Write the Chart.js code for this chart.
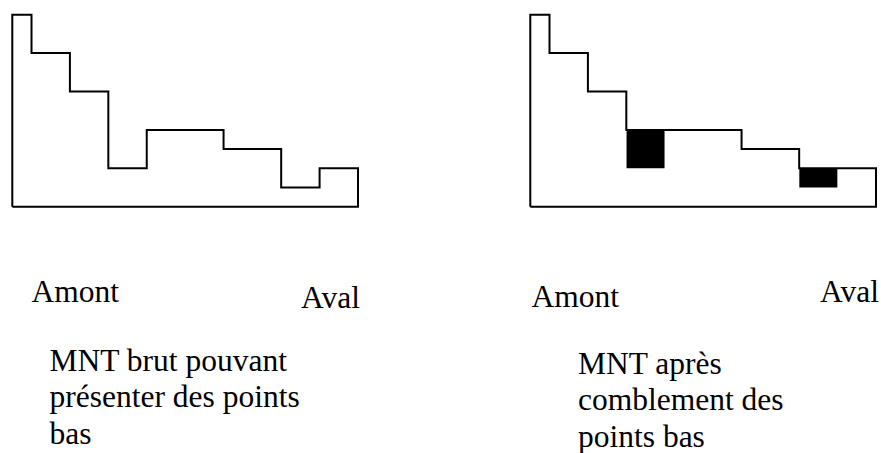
<!DOCTYPE html>
<html>
<head>
<meta charset="utf-8">
<script src="https://cdn.jsdelivr.net/npm/chart.js@4/dist/chart.umd.min.js"></script>
<style>
  html, body { margin: 0; padding: 0; background: #fff; }
  body { width: 881px; height: 453px; position: relative; overflow: hidden; }
  canvas { position: absolute; }
  .lbl { position: absolute; font-family: "Liberation Serif", "Times New Roman", "Liberation Sans", serif; font-size: 31.5px; line-height: 36.7px; color: #000; white-space: nowrap; }
</style>
</head>
<body>
<canvas id="raw" style="left:0;top:0;width:370px;height:220px" width="370" height="220"></canvas>
<canvas id="filled" style="left:515px;top:0;width:366px;height:220px" width="366" height="220"></canvas>

<div class="lbl" style="left:31.5px;top:274px">Amont</div>
<div class="lbl" style="left:301px;top:280px">Aval</div>
<div class="lbl" style="left:531.5px;top:279px">Amont</div>
<div class="lbl" style="left:820px;top:274px">Aval</div>
<div class="lbl" style="left:49.5px;top:342.5px">MNT brut pouvant<br>présenter des points<br>bas</div>
<div class="lbl" style="left:578px;top:345.5px">MNT après<br>comblement des<br>points bas</div>

<script>
// cell boundaries along the profile (upstream -> downstream)
const cellEdges = [0, 1, 3, 5, 7, 11, 14, 16, 18];
// elevation of each cell, raw DEM
const rawHeights = [10, 8, 6, 2, 4, 3, 1, 2];
// elevation of each cell after filling the sinks
const filledHeights = [10, 8, 6, 4, 4, 3, 2, 2];

// closed outline: left wall, stepped top, right wall, base
function outline(heights) {
  const pts = [{ x: cellEdges[0], y: 0 }];
  heights.forEach((h, i) => {
    pts.push({ x: cellEdges[i], y: h });
    pts.push({ x: cellEdges[i + 1], y: h });
  });
  pts.push({ x: cellEdges[cellEdges.length - 1], y: 0 });
  pts.push({ x: cellEdges[0], y: 0 });
  return pts;
}

const lineDs = (heights) => ({
  data: outline(heights),
  showLine: true,
  borderColor: '#000',
  borderWidth: 2,
  borderJoinStyle: 'miter',
  pointRadius: 0,
  tension: 0,
  fill: false,
  clip: false,
});

// black blocks where the sink was filled
const pitDs = [];
filledHeights.forEach((h, i) => {
  if (h > rawHeights[i]) {
    pitDs.push({
      data: [{ x: cellEdges[i], y: h }, { x: cellEdges[i + 1], y: h }],
      showLine: true,
      borderWidth: 0,
      borderColor: '#000',
      backgroundColor: '#000',
      pointRadius: 0,
      fill: { value: rawHeights[i] },
      clip: false,
    });
  }
});

function makeChart(id, datasets, padding) {
  return new Chart(document.getElementById(id), {
    type: 'scatter',
    data: { datasets },
    options: {
      responsive: false,
      animation: false,
      layout: { padding },
      plugins: { legend: { display: false }, tooltip: { enabled: false } },
      scales: {
        x: { type: 'linear', min: 0, max: 18, display: false },
        y: { min: 0, max: 10, display: false },
      },
    },
  });
}

makeChart('raw', [lineDs(rawHeights)], { left: 12.3, top: 14.7, right: 12, bottom: 13.3 });
makeChart('filled', [lineDs(filledHeights), ...pitDs], { left: 15.3, top: 14.7, right: 5, bottom: 13.3 });
</script>
</body>
</html>
